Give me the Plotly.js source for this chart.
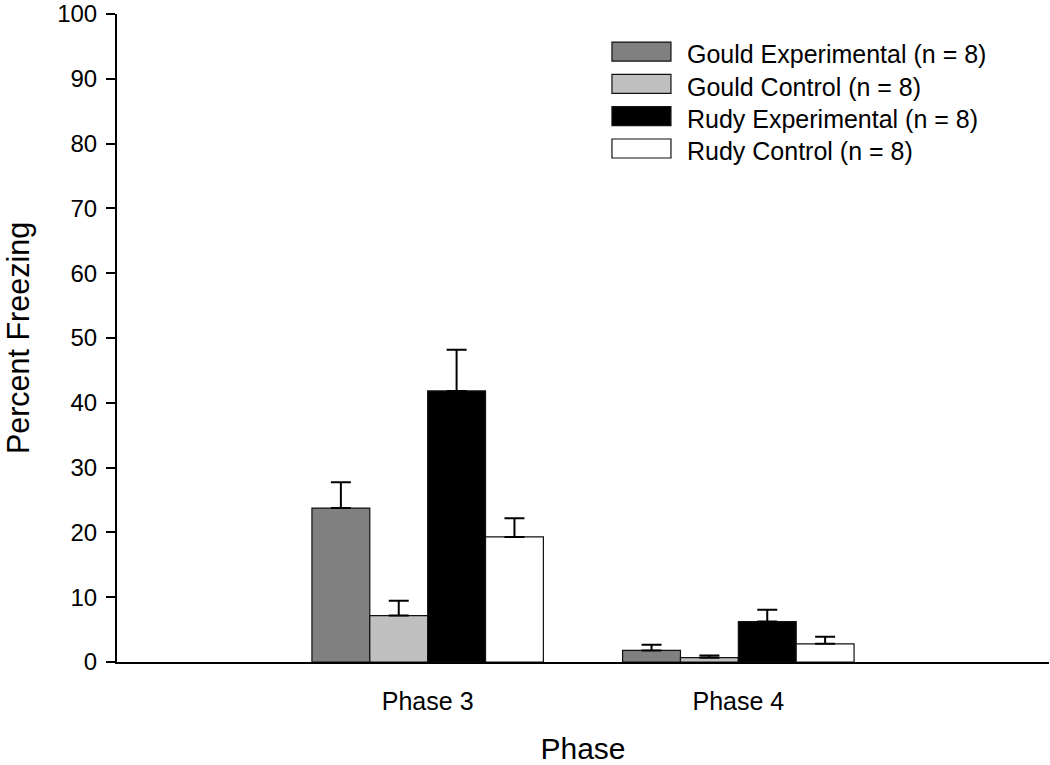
<!DOCTYPE html>
<html>
<head>
<meta charset="utf-8">
<script src="https://cdn.plot.ly/plotly-3.0.1.min.js"></script>
<style>body{margin:0;background:#fff;} #chart{width:1050px;height:765px;}</style>
</head>
<body>
<div id="chart"></div>
<script>
const phases = ["Phase 3", "Phase 4"];
const seriesNames = ["Gould Experimental (n = 8)", "Gould Control (n = 8)", "Rudy Experimental (n = 8)", "Rudy Control (n = 8)"];
const gouldExp = [23.75, 1.78];
const gouldExpErr = [4.0, 0.88];
const gouldCtl = [7.16, 0.66];
const gouldCtlErr = [2.3, 0.35];
const rudyExp = [41.83, 6.24];
const rudyExpErr = [6.34, 1.84];
const rudyCtl = [19.3, 2.81];
const rudyCtlErr = [2.9, 1.08];
const yTicks = [0, 10, 20, 30, 40, 50, 60, 70, 80, 90, 100];
const colors = ["#808080", "#c0c0c0", "#000000", "#ffffff"];

const vals = [gouldExp, gouldCtl, rudyExp, rudyCtl];
const errs = [gouldExpErr, gouldCtlErr, rudyExpErr, rudyCtlErr];
const FONT = "Liberation Sans, Arial, sans-serif";

const traces = vals.map((v, i) => ({
  type: "bar",
  name: seriesNames[i],
  x: phases,
  y: v,
  marker: {color: colors[i], line: {color: "#111", width: 1.2}},
  error_y: {type: "data", symmetric: false, array: errs[i], arrayminus: [0, 0], color: "#000", thickness: 2, width: 10},
  hoverinfo: "none"
}));

const layout = {
  width: 1050, height: 765,
  margin: {l: 117, r: 1, t: 14, b: 103},
  paper_bgcolor: "#fff", plot_bgcolor: "#fff",
  barmode: "group",
  bargap: 0.255,
  bargroupgap: 0,
  font: {family: FONT, color: "#000", size: 24},
  showlegend: true,
  legend: {x: 0.530, y: 0.974, xanchor: "left", yanchor: "top", itemwidth: 66,
           font: {size: 25, family: FONT}, bgcolor: "rgba(0,0,0,0)", tracegroupgap: 0, traceorder: "normal"},
  xaxis: {
    type: "category",
    range: [-1, 2],
    showline: true, linecolor: "#000", linewidth: 2,
    ticks: "", showgrid: false, zeroline: false,
    tickfont: {size: 25, family: FONT},
    ticklabelstandoff: 16,
    title: {text: "Phase", font: {size: 30, family: FONT}, standoff: 27}
  },
  yaxis: {
    range: [0, 100],
    tickmode: "array",
    tickvals: yTicks,
    ticktext: yTicks.map(String),
    ticklabeloverflow: "allow",
    showline: true, linecolor: "#000", linewidth: 2,
    ticks: "outside", ticklen: 9, tickwidth: 2, tickcolor: "#000",
    ticklabelstandoff: 4,
    showgrid: false, zeroline: false,
    tickfont: {size: 24, family: FONT},
    title: {text: "Percent Freezing", font: {size: 30.5, family: FONT}, standoff: 18}
  }
};

Plotly.newPlot("chart", traces, layout, {staticPlot: true, displayModeBar: false}).then(gd => {
  const items = Array.from(gd.querySelectorAll(".legend .traces"));
  let y0 = null;
  items.forEach((g, i) => {
    // compress legend row spacing to match reference
    const tr = g.getAttribute("transform") || "";
    const mt = tr.match(/translate\(\s*([-\d.]+)[ ,]+([-\d.]+)\s*\)/);
    if (mt) {
      const tx0 = parseFloat(mt[1]), ty0 = parseFloat(mt[2]);
      if (y0 === null) y0 = ty0;
      g.setAttribute("transform", `translate(${tx0},${y0 + i * 32.3})`);
    }
    // wide rectangular swatches left of the text
    const txt = g.querySelector("text.legendtext");
    const tx = parseFloat(txt.getAttribute("x")) || 0;
    g.querySelectorAll(".legendpoints path").forEach(p => {
      const m = g.getCTM().inverse().multiply(p.getCTM());
      const off = m.e;
      const x0 = tx - 75 - off, x1 = tx - 16 - off;
      p.setAttribute("d", `M${x0},-11.5H${x1}V7.5H${x0}Z`);
      p.style.strokeWidth = "1.2px";
    });
  });
});
</script>
</body>
</html>
